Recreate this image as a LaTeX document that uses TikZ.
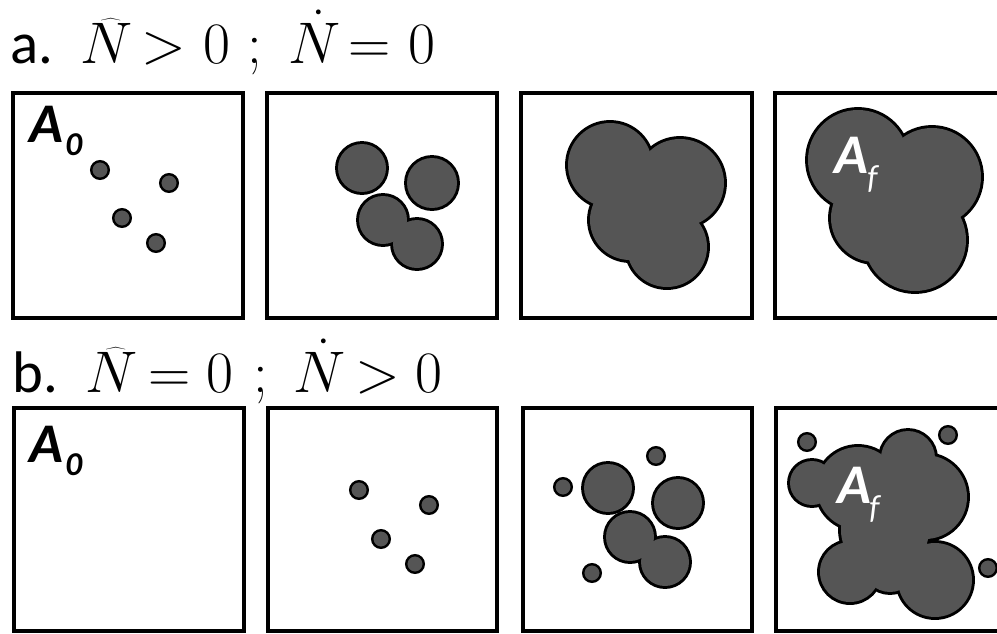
\RequirePackage{fix-cm}
\documentclass[tikz,border=0pt]{standalone}
\usepackage{fontspec}
\newfontfamily\carlito{Carlito}
\definecolor{blobgray}{RGB}{85,85,85}
\newcommand\drawblob[1]{%
  \foreach \cx/\cy/\cr in {#1} {\draw[blobedge] (\cx,\cy) circle[radius=\cr];}
  \foreach \cx/\cy/\cr in {#1} {\fill[blobgray] (\cx,\cy) circle[radius=\cr];}
}
\newcommand\drawdots[1]{%
  \foreach \cx/\cy in {#1} {\draw[dotc] (\cx,\cy) circle[radius=8.8];}
}
\begin{document}
\begin{tikzpicture}[x=0.75pt,y=-0.75pt,
  frame/.style={draw=black, line width=2.6pt},
  blobedge/.style={draw=black, line width=4.4pt},
  dotc/.style={draw=black, fill=blobgray, line width=1.8pt},
  title/.style={anchor=base west, inner sep=0pt, font=\fontsize{44}{48}\selectfont},
  Alabel/.style={anchor=base west, inner sep=0pt, font=\carlito\bfseries\itshape\fontsize{42}{44}\selectfont},
  sublabel/.style={anchor=base west, inner sep=0pt, font=\carlito\bfseries\itshape\fontsize{25}{27}\selectfont}]
\useasboundingbox (0,0) rectangle (997,633);
\fill[white] (0,0) rectangle (997,633);
\clip (0,0) rectangle (997,633);

% title a
\node[title] (ta1) at (10,63) {\carlito a.};
\node[title] (ta2) at (80,63) {$\widehat{N}$};
\node[title] (ta3) at (141,63) {$>$};
\node[title] (ta4) at (203,63) {$0$};
\node[title] (ta5) at (247,63) {$;$};
\node[title] (ta6) at (288,63) {$\dot{N}$};
\node[title] (ta7) at (348,63) {$=$};
\node[title] (ta8) at (408,63) {$0$};
% title b
\node[title] (tb1) at (12,392) {\carlito b.};
\node[title] (tb2) at (85,392) {$\widehat{N}$};
\node[title] (tb3) at (148,392) {$=$};
\node[title] (tb4) at (206,392) {$0$};
\node[title] (tb5) at (253,392) {$;$};
\node[title] (tb6) at (293,392) {$\dot{N}$};
\node[title] (tb7) at (355,392) {$>$};
\node[title] (tb8) at (415,392) {$0$};

% frames row a
\draw[frame] (13,93) rectangle (243,318);
\draw[frame] (267,93) rectangle (497,318);
\draw[frame] (521,93) rectangle (752,318);
\draw[frame] (775,93) rectangle (1005,318);
% frames row b
\draw[frame] (14,408) rectangle (244,631);
\draw[frame] (268,408) rectangle (497,631);
\draw[frame] (523,408) rectangle (752,631);
\draw[frame] (776,408) rectangle (1006,631);

% row a
\drawdots{100/170,169/183,122/218,156/243}
\drawblob{362/168/24,432/183/25,383/220/24,417/244/24}
\drawblob{610/165/42,680/183/44,630/220/40,667/247/40}
\drawblob{858/160/50,932/177/49,915/240/51,875/218/44}

% row b
\drawdots{359/490,429/505,381/539,415/564}
\drawdots{656/456,563/487,592/573}
\drawblob{608/488/24,678/503/24,630/537/24,665/562/24}
\drawdots{807/442,948/435,988/568}
\drawblob{812/483/22,858/488/41,908/458/27,925/497/42,885/530/44,850/572/30,890/565/27,935/580/37}

% labels
\node[Alabel] (a0a) at (29,142) {A};
\node[sublabel] (a0as) at (65,155) {0};
\node[Alabel] (a0b) at (29,462) {A};
\node[sublabel] (a0bs) at (65,475) {0};
\node[Alabel, text=white] (afa) at (834,173) {A};
\node[sublabel, text=white, font=\carlito\itshape\fontsize{25}{27}\selectfont] (afas) at (867,188) {f};
\node[Alabel, text=white] (afb) at (837,503) {A};
\node[sublabel, text=white, font=\carlito\itshape\fontsize{25}{27}\selectfont] (afbs) at (869,518) {f};
\end{tikzpicture}
\end{document}
